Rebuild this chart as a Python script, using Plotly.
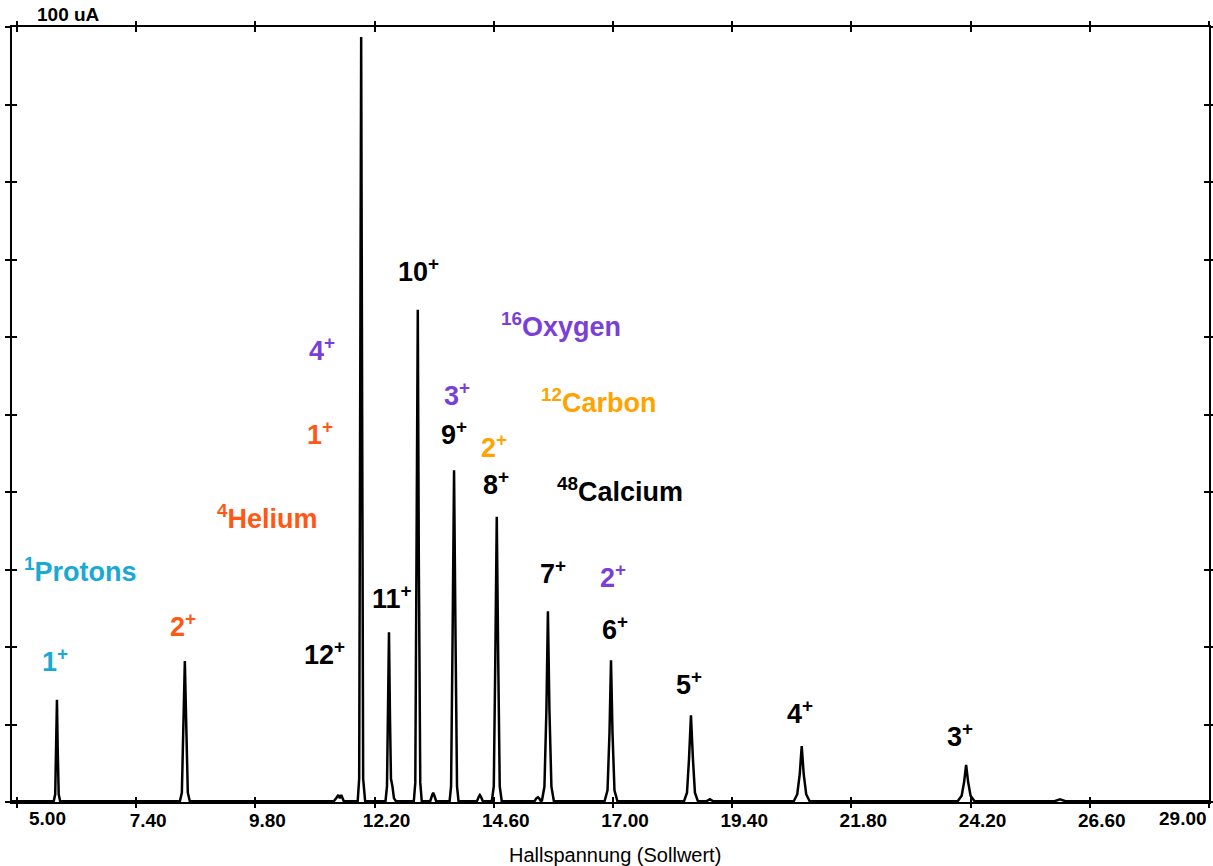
import plotly.graph_objects as go

# Trace of the beam current vs Hall voltage
hall = [4.90,
        5.74, 5.77, 5.79, 5.805, 5.82, 5.84, 5.87,
        8.28, 8.32, 8.35, 8.38, 8.41, 8.44, 8.48,
        11.38, 11.44, 11.47, 11.50, 11.53, 11.58,
        11.86, 11.89, 11.91, 11.93, 11.95, 11.97, 12.01,
        12.42, 12.45, 12.47, 12.49, 12.51, 12.53, 12.56, 12.59, 12.63,
        12.99, 13.02, 13.05, 13.07, 13.09, 13.12, 13.15,
        13.32, 13.36, 13.38, 13.40, 13.44,
        13.71, 13.74, 13.77, 13.80, 13.83, 13.86, 13.89,
        14.26, 14.30, 14.32, 14.34, 14.38,
        14.56, 14.60, 14.63, 14.66, 14.69, 14.72, 14.76,
        15.42, 15.46, 15.49, 15.52, 15.55,
        15.57, 15.62, 15.66, 15.69, 15.72, 15.76, 15.81,
        16.83, 16.89, 16.93, 16.96, 16.99, 17.03, 17.09,
        18.43, 18.49, 18.53, 18.57, 18.61, 18.65, 18.71,
        18.88, 18.95, 19.02,
        20.64, 20.71, 20.76, 20.80, 20.84, 20.89, 20.96,
        23.94, 24.02, 24.07, 24.11, 24.15, 24.20, 24.28,
        25.89, 26.00, 26.11,
        29.0]
current = [0.1,
           0.1, 1.0, 7.0, 13.2, 7.0, 1.0, 0.1,
           0.1, 1.2, 9.5, 18.2, 9.5, 1.2, 0.1,
           0.1, 0.6, 0.9, 0.5, 0.9, 0.1,
           0.1, 3.0, 50.0, 98.7, 50.0, 3.0, 0.1,
           0.1, 2.0, 11.0, 21.9, 11.0, 3.0, 2.0, 0.5, 0.1,
           0.1, 2.5, 32.0, 63.5, 32.0, 2.5, 0.1,
           0.1, 0.9, 1.2, 0.9, 0.1,
           0.1, 2.0, 21.0, 42.8, 21.0, 2.0, 0.1,
           0.1, 0.7, 0.9, 0.7, 0.1,
           0.1, 2.0, 18.0, 36.8, 18.0, 2.0, 0.1,
           0.1, 0.5, 0.6, 0.4, 0.1,
           0.2, 2.0, 12.0, 24.6, 12.0, 2.0, 0.1,
           0.1, 1.5, 9.0, 18.3, 9.0, 1.5, 0.1,
           0.1, 1.2, 5.5, 11.2, 5.5, 1.2, 0.1,
           0.1, 0.35, 0.1,
           0.1, 1.0, 3.6, 7.2, 3.6, 1.0, 0.1,
           0.1, 0.8, 2.6, 4.8, 2.6, 0.8, 0.1,
           0.1, 0.35, 0.1,
           0.1]

tick_vals = [5.0, 7.4, 9.8, 12.2, 14.6, 17.0, 19.4, 21.8, 24.2, 26.6, 29.0]
tick_text = ["5.00", "7.40", "9.80", "12.20", "14.60", "17.00", "19.40", "21.80", "24.20", "26.60", "29.00"]

CYAN = "#1aa8d4"
HE = "#ff5714"
OX = "#7a3fd9"
CA = "#ffa300"
BK = "#000000"
label_text = ["<sup>1</sup>Protons", "1<sup>+</sup>",
              "2<sup>+</sup>", "<sup>4</sup>Helium", "1<sup>+</sup>",
              "4<sup>+</sup>", "12<sup>+</sup>", "11<sup>+</sup>", "10<sup>+</sup>",
              "3<sup>+</sup>", "9<sup>+</sup>", "2<sup>+</sup>", "8<sup>+</sup>",
              "<sup>16</sup>Oxygen", "<sup>12</sup>Carbon", "<sup>48</sup>Calcium",
              "7<sup>+</sup>", "2<sup>+</sup>", "6<sup>+</sup>", "5<sup>+</sup>",
              "4<sup>+</sup>", "3<sup>+</sup>"]
label_x = [6.27, 5.77, 8.34, 10.05, 11.10, 11.14, 11.20, 12.55, 13.09, 13.86, 13.80, 14.60,
           14.64, 15.95, 16.72, 17.14, 15.79, 17.00, 17.04, 18.53, 20.76, 23.99]
label_y = [30.0, 18.3, 22.8, 36.8, 47.6, 58.5, 19.2, 26.4, 68.6, 52.7, 47.6, 45.9,
           41.2, 61.5, 51.7, 40.2, 29.7, 29.1, 22.4, 15.4, 11.6, 8.6]
label_color = [CYAN, CYAN, HE, HE, HE, OX, BK, BK, BK, OX, BK, CA,
               BK, OX, CA, BK, BK, OX, BK, BK, BK, BK]

FONT = "Liberation Sans, Arial, sans-serif"
TICKFONT = dict(family=FONT, size=19, color="black", weight="bold")

fig = go.Figure()
fig.add_trace(go.Scatter(x=hall, y=current, mode="lines",
                         line=dict(color="black", width=2.5), hoverinfo="skip",
                         showlegend=False))
fig.add_trace(go.Scatter(x=[hall[0]], y=[current[0]], xaxis="x2", yaxis="y2",
                         mode="markers", marker=dict(opacity=0), showlegend=False,
                         hoverinfo="skip"))

for t, x, y, c in zip(label_text, label_x, label_y, label_color):
    fig.add_annotation(x=x, y=y, xref="x", yref="y", text=t, showarrow=False,
                       font=dict(family=FONT, size=27, color=c, weight="bold"),
                       xanchor="center", yanchor="middle")

# first and last tick labels are pushed inward in the original
fig.add_annotation(x=tick_vals[0], y=0, xref="x", yref="y", text=tick_text[0],
                   showarrow=False, xanchor="left", yanchor="top", yshift=-4, xshift=10,
                   font=TICKFONT)
fig.add_annotation(x=tick_vals[-1], y=0, xref="x", yref="y", text=tick_text[-1],
                   showarrow=False, xanchor="right", yanchor="top", yshift=-4,
                   font=TICKFONT)

fig.add_annotation(x=(35 - 12) / 1197, y=1, xref="paper", yref="paper", text="100 uA",
                   showarrow=False, xanchor="left", yanchor="bottom",
                   font=dict(family=FONT, size=19, color="black", weight="bold"))
fig.add_annotation(x=(615 - 12) / 1197, y=-(855 - 802) / 775, xref="paper", yref="paper",
                   text="Hallspannung (Sollwert)", showarrow=False,
                   xanchor="center", yanchor="middle",
                   font=dict(family=FONT, size=20, color="black"))

xr = [4.90, 29.0]
yr = [0, 100]
fig.update_layout(
    width=1213, height=866,
    margin=dict(l=12, r=4, t=27, b=64, autoexpand=False),
    paper_bgcolor="white", plot_bgcolor="white",
    xaxis=dict(range=xr, tickvals=tick_vals, ticktext=[""] + tick_text[1:-1] + [""],
               ticks="inside", ticklen=5, tickwidth=2, tickcolor="black", showline=True,
               linecolor="black", linewidth=2, mirror="ticks", showgrid=False,
               zeroline=False, automargin=False, ticklabeloverflow="allow",
               ticklabelshift=12, tickfont=TICKFONT),
    yaxis=dict(range=yr, dtick=10, tick0=0, ticks="outside", ticklen=5, tickwidth=2,
               tickcolor="black", showline=True, linecolor="black", linewidth=2,
               mirror="ticks", showgrid=False, zeroline=False, showticklabels=False,
               automargin=False),
    xaxis2=dict(range=xr, tickvals=tick_vals, ticks="outside", ticklen=5, tickwidth=2,
                tickcolor="black", showticklabels=False, overlaying="x",
                showgrid=False, zeroline=False, mirror="ticks", showline=False,
                automargin=False),
    yaxis2=dict(range=yr, dtick=10, tick0=0, ticks="inside", ticklen=5, tickwidth=2,
                tickcolor="black", showticklabels=False, overlaying="y",
                showgrid=False, zeroline=False, mirror="ticks", showline=False,
                automargin=False),
)

fig.write_html("out.html")
